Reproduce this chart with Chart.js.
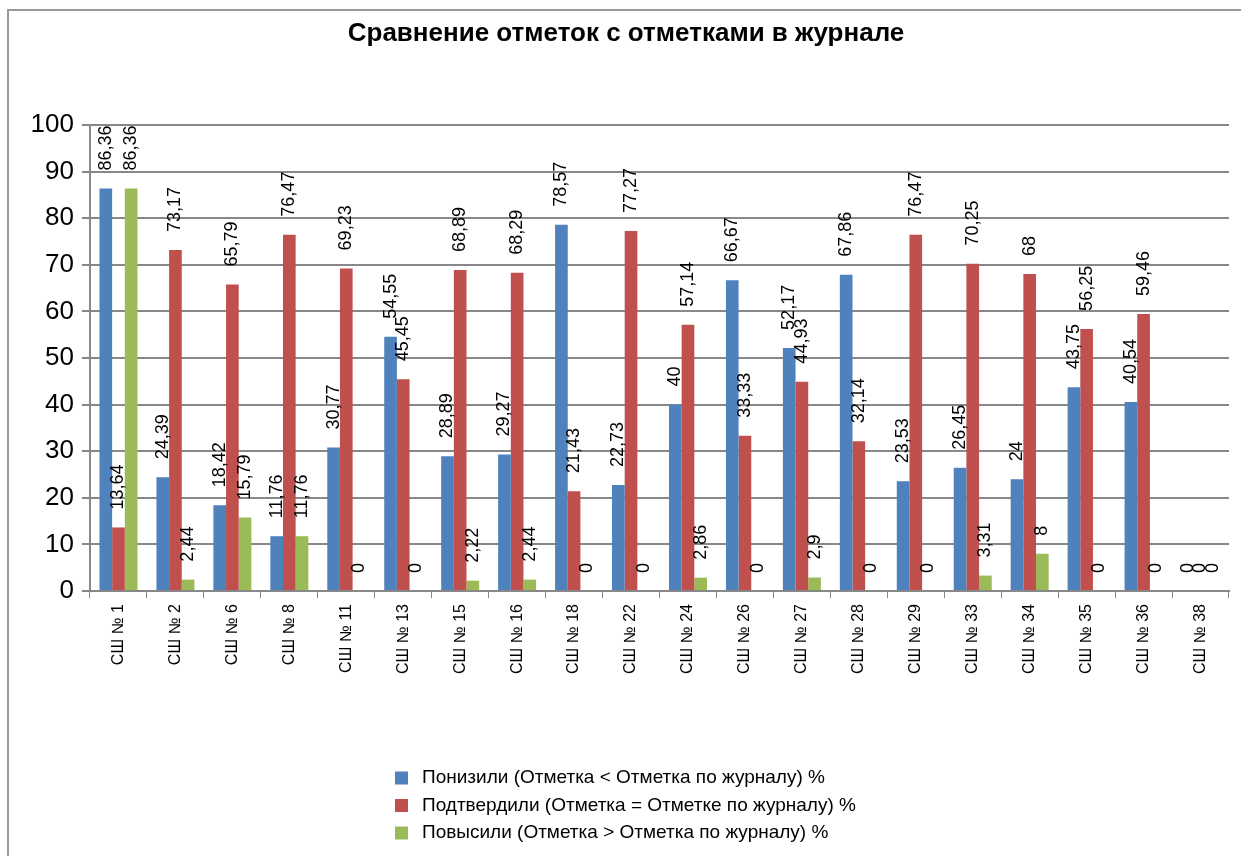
<!DOCTYPE html>
<html>
<head>
<meta charset="utf-8">
<script src="https://cdn.jsdelivr.net/npm/chart.js@4.4.1/dist/chart.umd.min.js"></script>
<style>
  html, body { margin: 0; padding: 0; background: #fff; overflow: hidden; }
  #wrap { position: relative; width: 1241px; height: 856px; }
</style>
</head>
<body>
<div id="wrap"><canvas id="chart" width="1241" height="856"></canvas></div>
<script>
'use strict';

const schools = ['СШ № 1','СШ № 2','СШ № 6','СШ № 8','СШ № 11','СШ № 13','СШ № 15','СШ № 16','СШ № 18','СШ № 22',
  'СШ № 24','СШ № 26','СШ № 27','СШ № 28','СШ № 29','СШ № 33','СШ № 34','СШ № 35','СШ № 36','СШ № 38'];

const lowered   = [86.36, 24.39, 18.42, 11.76, 30.77, 54.55, 28.89, 29.27, 78.57, 22.73, 40, 66.67, 52.17, 67.86, 23.53, 26.45, 24, 43.75, 40.54, 0];
const confirmed = [13.64, 73.17, 65.79, 76.47, 69.23, 45.45, 68.89, 68.29, 21.43, 77.27, 57.14, 33.33, 44.93, 32.14, 76.47, 70.25, 68, 56.25, 59.46, 0];
const raised    = [86.36, 2.44, 15.79, 11.76, 0, 0, 2.22, 2.44, 0, 0, 2.86, 0, 2.9, 0, 0, 3.31, 8, 0, 0, 0];

const seriesNames = [
  'Понизили (Отметка < Отметка по журналу) %',
  'Подтвердили (Отметка = Отметке по журналу) %',
  'Повысили (Отметка > Отметка по журналу) %'
];
const colors = ['#4F81BD', '#C0504D', '#9BBB59'];
const yTicks = [0, 10, 20, 30, 40, 50, 60, 70, 80, 90, 100];

// frame around the chart
const framePlugin = {
  id: 'frame',
  beforeDraw(chart) {
    const c = chart.ctx;
    c.save();
    c.strokeStyle = '#9a9a9a';
    c.lineWidth = 2;
    c.strokeRect(8, 10, 1300, 900);
    c.restore();
  }
};

// value labels above bars, rotated
const valueLabels = {
  id: 'valueLabels',
  afterDatasetsDraw(chart) {
    const c = chart.ctx;
    c.save();
    c.font = '18px "Liberation Sans", Arial, sans-serif';
    c.fillStyle = '#000';
    c.textAlign = 'left';
    c.textBaseline = 'middle';
    chart.data.datasets.forEach(function(ds, i) {
      const meta = chart.getDatasetMeta(i);
      meta.data.forEach(function(bar, j) {
        const txt = String(ds.data[j]).replace('.', ',');
        c.save();
        c.translate(bar.x, bar.y - 18);
        c.rotate(-Math.PI / 2);
        c.fillText(txt, 0, 0);
        c.restore();
      });
    });
    c.restore();
  }
};

// legend: one entry per row, like the original
const rowLegend = {
  id: 'rowLegend',
  afterDraw(chart) {
    const c = chart.ctx;
    c.save();
    c.font = '19px "Liberation Sans", Arial, sans-serif';
    c.textBaseline = 'middle';
    c.textAlign = 'left';
    chart.data.datasets.forEach(function(ds, i) {
      const y = 778 + i * 27.5;
      c.fillStyle = ds.backgroundColor;
      c.fillRect(395, y - 6.5, 13, 13);
      c.fillStyle = '#000';
      c.fillText(ds.label, 422, y);
    });
    c.restore();
  }
};

new Chart(document.getElementById('chart').getContext('2d'), {
  type: 'bar',
  data: {
    labels: schools,
    datasets: [
      { label: seriesNames[0], data: lowered,   backgroundColor: colors[0] },
      { label: seriesNames[1], data: confirmed, backgroundColor: colors[1] },
      { label: seriesNames[2], data: raised,    backgroundColor: colors[2] }
    ]
  },
  options: {
    responsive: false,
    animation: false,
    datasets: {
      bar: { categoryPercentage: 0.667, barPercentage: 1.0 }
    },
    layout: { padding: { left: 23, right: 12, top: 0, bottom: 0 } },
    scales: {
      x: {
        grid: { display: true, drawOnChartArea: false, drawTicks: true, tickLength: 7, color: '#888', offset: true },
        border: { color: '#888', width: 2 },
        ticks: {
          color: '#000',
          font: { family: '"Liberation Sans", Arial, sans-serif', size: 16 },
          minRotation: 90, maxRotation: 90, padding: 6, autoSkip: false
        },
        afterFit(scale) { scale.height = 856 - 591; }
      },
      y: {
        min: 0, max: 100,
        afterBuildTicks(scale) { scale.ticks = yTicks.map(function(v) { return { value: v }; }); },
        grid: { color: '#888', lineWidth: 2, tickLength: 8 },
        border: { color: '#888', width: 2 },
        ticks: {
          color: '#000',
          padding: 8,
          font: { family: '"Liberation Sans", Arial, sans-serif', size: 26 }
        },
        afterFit(scale) { scale.width = 67; }
      }
    },
    plugins: {
      legend: { display: false },
      tooltip: { enabled: false },
      title: {
        display: true,
        text: 'Сравнение отметок с отметками в журнале',
        color: '#000',
        font: { family: '"Liberation Sans", Arial, sans-serif', size: 26, weight: 'bold', lineHeight: 1.2 },
        padding: { top: 18.4, bottom: 75.4 }
      }
    }
  },
  plugins: [framePlugin, valueLabels, rowLegend]
});
</script>
</body>
</html>
